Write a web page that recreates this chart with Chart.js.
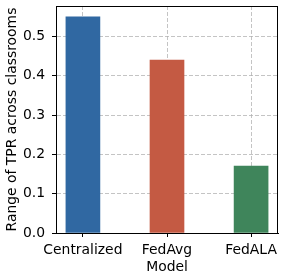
<!DOCTYPE html>
<html>
<head>
<meta charset="utf-8">
<script src="https://cdn.jsdelivr.net/npm/chart.js@4/dist/chart.umd.min.js"></script>
<style>
  html, body { margin: 0; padding: 0; background: #fff; }
  #wrap { width: 285px; height: 277px; }
</style>
</head>
<body>
<div id="wrap"><canvas id="myChart" width="285" height="277"></canvas></div>
<script>
"use strict";

const models = ["Centralized", "FedAvg", "FedALA"];
const tprRange = [0.55, 0.44, 0.17];
const barColors = ["#3068a2", "#c45a43", "#3f855b"];
const yTicks = [0.0, 0.1, 0.2, 0.3, 0.4, 0.5];

const font = { family: "DejaVu Sans", size: 13.9 };
const gridColor = "rgba(176, 176, 176, 0.75)";

// box around the plot area (matplotlib spines)
const framePlugin = {
  id: "frame",
  afterDraw(chart) {
    const { ctx, chartArea } = chart;
    ctx.save();
    ctx.strokeStyle = "#000";
    ctx.lineWidth = 1;
    ctx.strokeRect(
      Math.round(chartArea.left) + 0.5,
      Math.round(chartArea.top) + 0.5,
      Math.round(chartArea.right - chartArea.left) - 1,
      Math.round(chartArea.bottom - chartArea.top)
    );
    ctx.restore();
  },
};

const ctx = document.getElementById("myChart").getContext("2d");

new Chart(ctx, {
  type: "bar",
  data: {
    datasets: [
      {
        data: models.map((m, i) => ({ x: i, y: tprRange[i] })),
        backgroundColor: barColors,
        borderWidth: 0,
        barThickness: 34,
      },
    ],
  },
  options: {
    responsive: false,
    animation: false,
    devicePixelRatio: 1,
    layout: { padding: { left: 4, top: 0, right: 7, bottom: 1 } },
    plugins: {
      legend: { display: false },
      tooltip: { enabled: false },
    },
    scales: {
      x: {
        type: "linear",
        min: -0.32,
        max: 2.32,
        offset: false,
        z: 1,
        afterBuildTicks: (axis) => {
          axis.ticks = models.map((m, i) => ({ value: i }));
        },
        afterFit: (axis) => {
          axis.height = 43;
          axis.paddingLeft = 0;
          axis.paddingRight = 0;
        },
        ticks: {
          color: "#000",
          font: font,
          padding: 5,
          maxRotation: 0,
          autoSkip: false,
          callback: (v) => models[v],
        },
        grid: {
          offset: false,
          color: gridColor,
          tickLength: 4,
          tickColor: "#000",
          tickBorderDash: [],
          tickWidth: 1,
        },
        border: { display: true, color: "#000", width: 1, dash: [4, 2] },
        title: {
          display: true,
          text: "Model",
          color: "#000",
          font: font,
          padding: 0,
        },
      },
      y: {
        min: 0,
        max: 0.5775,
        z: 1,
        afterBuildTicks: (axis) => {
          axis.ticks = yTicks.map((v) => ({ value: v }));
        },
        afterFit: (axis) => {
          axis.width = 52;
          axis.paddingTop = 6;
          axis.paddingBottom = 0;
        },
        ticks: {
          color: "#000",
          font: font,
          padding: 7,
          callback: (v) => v.toFixed(1),
        },
        grid: {
          color: gridColor,
          tickLength: 4,
          tickColor: "#000",
          tickBorderDash: [],
          tickWidth: 1,
        },
        border: { display: true, color: "#000", width: 1, dash: [4, 2] },
        title: {
          display: true,
          text: "Range of TPR across classrooms",
          color: "#000",
          font: font,
          padding: 0,
        },
      },
    },
  },
  plugins: [framePlugin],
});
</script>
</body>
</html>
